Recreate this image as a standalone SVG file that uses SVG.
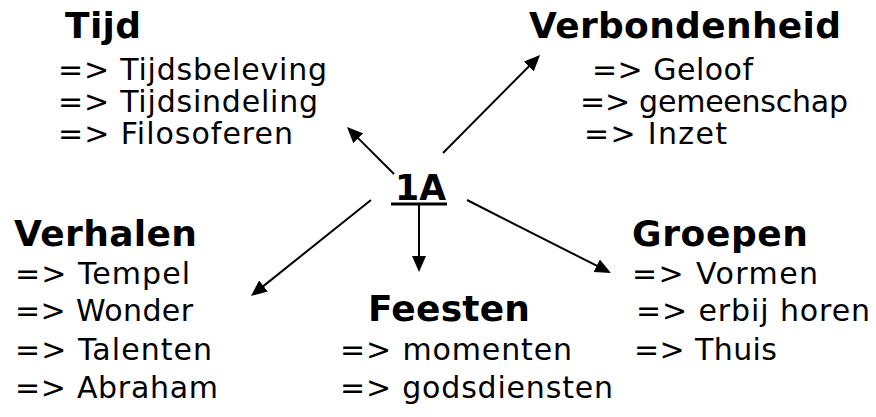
<svg xmlns="http://www.w3.org/2000/svg" width="876" height="417" viewBox="0 0 876 417">
<style>
.h{font-family:"DejaVu Sans",Verdana,sans-serif;font-weight:bold;font-size:36px;fill:#000}
.t{font-family:"DejaVu Sans",Verdana,sans-serif;font-size:30px;fill:#000}
.c{stroke:#000;stroke-width:2;fill:none}
</style>
<defs>
<marker id="ah" markerUnits="userSpaceOnUse" markerWidth="17" markerHeight="14" refX="1" refY="7" orient="auto">
<path d="M0,0 L16,7 L0,14 Z" fill="#000"/>
</marker>
</defs>
<rect width="876" height="417" fill="#fff"/>
<g id="connectors">
<line class="c" x1="394" y1="174" x2="357.6" y2="137.6" marker-end="url(#ah)"/>
<line class="c" x1="443" y1="153" x2="529.5" y2="65.7" marker-end="url(#ah)"/>
<line class="c" x1="371" y1="200" x2="262.7" y2="286.6" marker-end="url(#ah)"/>
<line class="c" x1="419" y1="204" x2="419" y2="257" marker-end="url(#ah)"/>
<line class="c" x1="467" y1="200" x2="597.6" y2="266.2" marker-end="url(#ah)"/>
</g>
<g id="center">
<text class="h" x="395" y="200" textLength="51" lengthAdjust="spacingAndGlyphs">1A</text>
<rect x="391" y="202.5" width="56" height="3" fill="#000"/>
</g>
<g id="tijd">
<text class="h" x="65" y="38" textLength="76">Tijd</text>
<text class="t" x="58" y="80" textLength="269">=&gt; Tijdsbeleving</text>
<text class="t" x="58" y="112" textLength="260">=&gt; Tijdsindeling</text>
<text class="t" x="58" y="144" textLength="235">=&gt; Filosoferen</text>
</g>
<g id="verbondenheid">
<text class="h" x="529" y="38" textLength="312">Verbondenheid</text>
<text class="t" x="592" y="80" textLength="161">=&gt; Geloof</text>
<text class="t" x="580" y="112" textLength="268">=&gt; gemeenschap</text>
<text class="t" x="584" y="144" textLength="143">=&gt; Inzet</text>
</g>
<g id="verhalen">
<text class="h" x="14" y="246" textLength="183">Verhalen</text>
<text class="t" x="15" y="284" textLength="175">=&gt; Tempel</text>
<text class="t" x="15" y="321" textLength="178">=&gt; Wonder</text>
<text class="t" x="15" y="360" textLength="197">=&gt; Talenten</text>
<text class="t" x="15" y="398" textLength="203">=&gt; Abraham</text>
</g>
<g id="feesten">
<text class="h" x="368" y="321" textLength="162">Feesten</text>
<text class="t" x="340" y="360" textLength="232">=&gt; momenten</text>
<text class="t" x="340" y="398" textLength="273">=&gt; godsdiensten</text>
</g>
<g id="groepen">
<text class="h" x="632" y="246" textLength="176">Groepen</text>
<text class="t" x="632" y="284" textLength="186">=&gt; Vormen</text>
<text class="t" x="636" y="321" textLength="234">=&gt; erbij horen</text>
<text class="t" x="634" y="360" textLength="143">=&gt; Thuis</text>
</g>
</svg>
